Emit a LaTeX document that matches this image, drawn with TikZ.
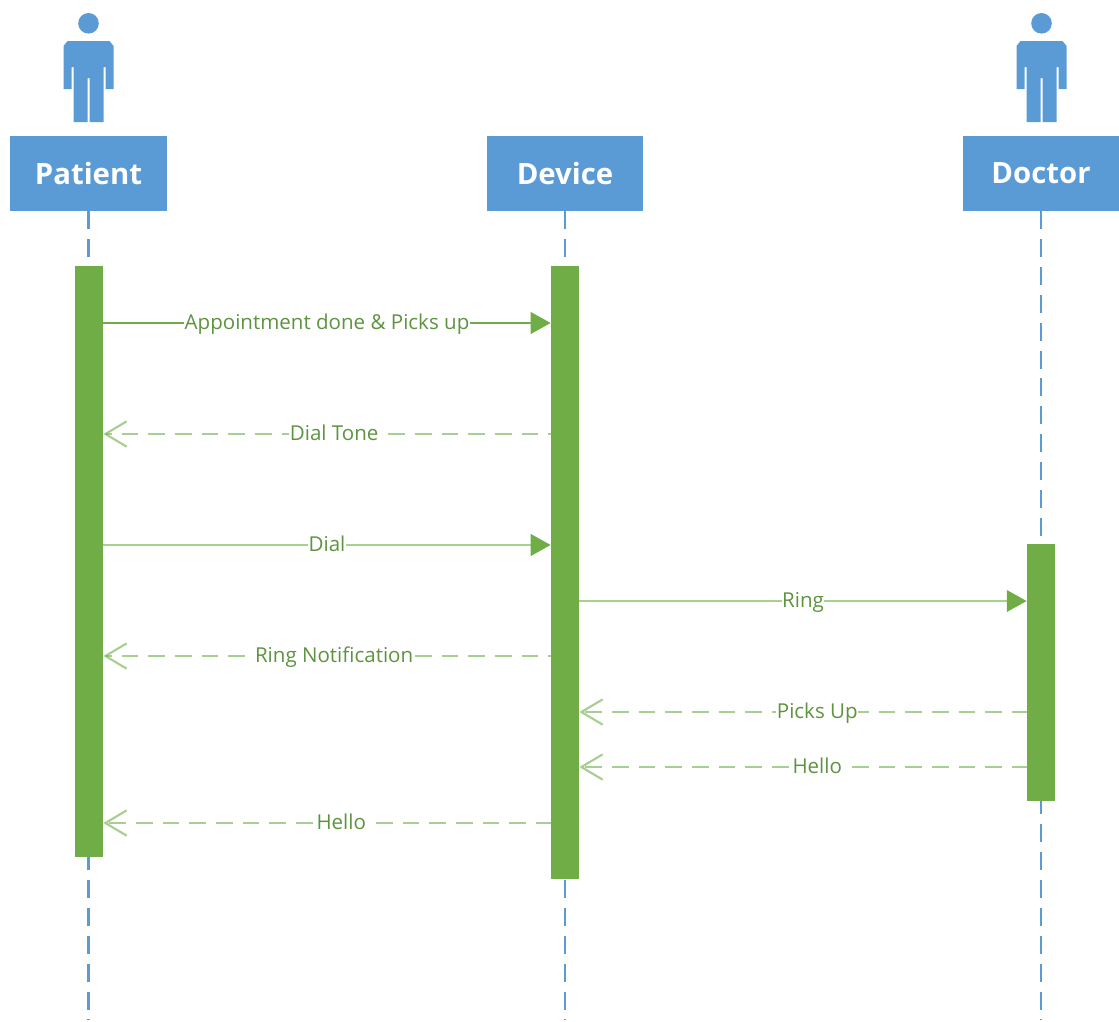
\documentclass[tikz,border=0pt]{standalone}
\usepackage{fontspec}
\setmainfont{Open Sans}
\usetikzlibrary{arrows.meta}
\definecolor{hdrblue}{HTML}{5B9BD5}
\definecolor{bargreen}{HTML}{70AD47}
\definecolor{lightgreen}{HTML}{A9D18E}
\definecolor{labgreen}{HTML}{5E9440}
\tikzset{
  x=0.75pt,y=-0.75pt,
  hdr/.style={fill=hdrblue,draw=none,minimum width=117.5pt,minimum height=56.25pt,inner sep=0pt,text=white,font=\fontsize{22}{26}\selectfont\bfseries},
  lifeline/.style={draw=hdrblue,line width=1.6pt,dash pattern=on 13.5pt off 7.4pt},
  actbar/.style={fill=bargreen,draw=none,minimum width=21pt,inner sep=0pt},
  lab/.style={fill=white,inner sep=0.4pt,text height=11pt,text depth=1.6pt,text=labgreen,font=\fontsize{15.4}{18}\selectfont},
  callsolid/.style={line width=2.2pt,-{Triangle[length=15pt,width=16pt,fill=bargreen,color=bargreen]}},
  calldark/.style={callsolid,draw=bargreen},
  calllight/.style={callsolid,draw=lightgreen},
  reply/.style={draw=bargreen,draw opacity=.6,line width=2.2pt,dash pattern=on 12.4pt off 7.6pt,-{Straight Barb[length=16pt,width=19pt,line width=1.6pt]}},
  personicon/.pic={
    \fill[hdrblue] (0,-98.7) circle[radius=10.3];
    \fill[hdrblue] (-25,-76) -- (-21,-81) -- (21,-81) -- (25,-76) -- (25,-33) -- (17,-33) -- (17,-55) -- (15,-55) -- (15,0)
      -- (1,0) -- (1,-44) -- (-1,-44) -- (-1,0) -- (-15,0) -- (-15,-55) -- (-17,-55) -- (-17,-33) -- (-25,-33) -- cycle;
  }
}
\begin{document}
\begin{tikzpicture}
\useasboundingbox (0,0) rectangle (1119,1021);
% headers
\node[hdr] (patient) at (88.5,173.5) {Patient};
\node[hdr] (device) at (565,173.5) {Device};
\node[hdr] (doctor) at (1041,173.5) {Doctor};
% lifeline ends
\coordinate (endP) at (88.5,1020);
\coordinate (endD) at (565,1020);
\coordinate (endO) at (1041,1020);
\draw[lifeline] (patient.south) -- (endP);
\draw[lifeline] (device.south) -- (endD);
\draw[lifeline] (doctor.south) -- (endO);
% person icons
\pic at (88.5,122) {personicon};
\pic at (1041.5,122) {personicon};
% activation bars
\node[actbar,minimum height=443.25pt] (barP) at (89,561.5) {};
\node[actbar,minimum height=459.75pt] (barD) at (565,572.5) {};
\node[actbar,minimum height=192.75pt] (barO) at (1041,672.5) {};
% messages
\draw[calldark] (barP.east |- 0,323) -- node[lab] {Appointment done \& Picks up} (barD.west |- 0,323);
\draw[reply] (barD.center |- 0,434) -- node[lab] {Dial Tone} (barP.east |- 0,434);
\draw[calllight] (barP.east |- 0,545) -- node[lab] {Dial} (barD.west |- 0,545);
\draw[calllight] (barD.east |- 0,601) -- node[lab] {Ring} (barO.west |- 0,601);
\draw[reply] (barD.center |- 0,656) -- node[lab] {Ring Notification} (barP.east |- 0,656);
\draw[reply] (barO.east |- 0,712) -- node[lab] {Picks Up} (barD.east |- 0,712);
\draw[reply] (barO.east |- 0,767) -- node[lab] {Hello} (barD.east |- 0,767);
\draw[reply] (barD.east |- 0,823) -- node[lab] {Hello} (barP.east |- 0,823);
\end{tikzpicture}
\end{document}
